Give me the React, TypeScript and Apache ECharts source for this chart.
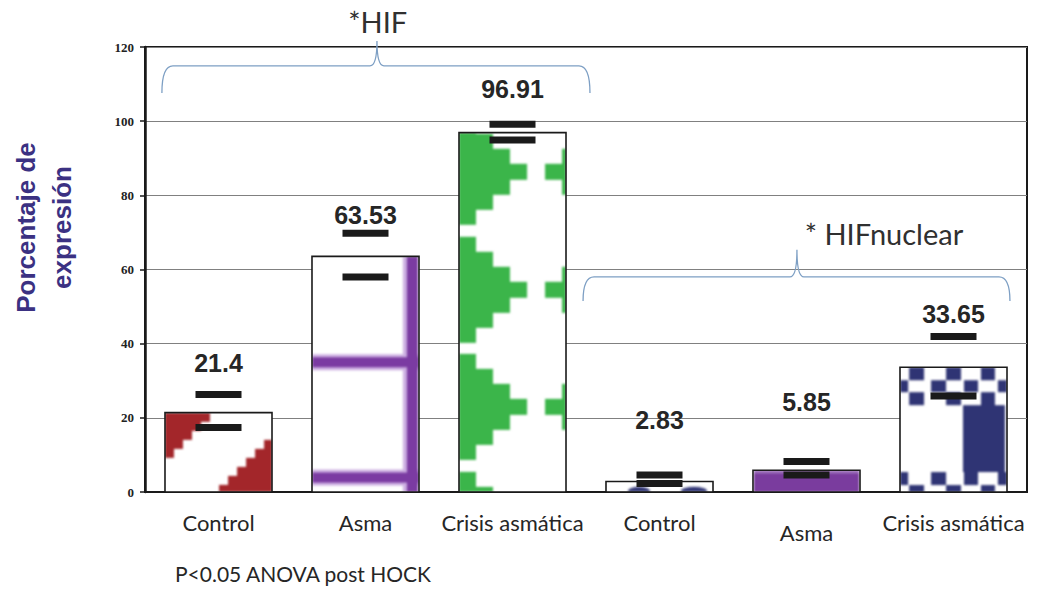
import React, { useEffect, useRef } from "react";
import * as echarts from "echarts";

// ---------- data ----------
const categories = ["Control", "Asma", "Crisis asmática", "Control", "Asma", "Crisis asmática"];
const values = [21.4, 63.53, 96.91, 2.83, 5.85, 33.65];
const errUpper = [26.3, 69.8, 99.2, 4.6, 8.2, 41.9];
const errLower = [17.4, 58.0, 94.9, 2.3, 4.6, 25.9];
const valueLabelLevel = [34.8, 74.7, 108.7, 19.4, 24.4, 48.0];
const yMin = 0;
const yMax = 120;
const yStep = 20;
const groupNames = ["*HIF", "* HIFnuclear"];
const yAxisTitle = "Porcentaje de\nexpresión";
const footnote = "P<0.05 ANOVA post HOCK";

// ---------- annotation layout (category units / axis values) ----------
const braceLayout = [
  { x0: -0.385, x1: 2.527, xc: 1.078, yLine: 114.9, yEnd: 107.6, yTip: 121.6, tx: 1.083, ty: 126.8 },
  { x0: 2.48, x1: 5.384, xc: 3.935, yLine: 58.0, yEnd: 51.5, yTip: 65.3, tx: 4.527, ty: 69.8 },
];

// ---------- pattern painters ----------
const RED = "#a3262a";
const PURPLE = "#7b3ba2";
const PURPLE_L = "#cdb0e2";
const GREEN = "#3bb54a";
const NAVY = "#2f3474";
const PURPLE_SOLID = "#7a3c9e";

type Painter = (c: CanvasRenderingContext2D, W: number, H: number) => void;

const paintDiag: Painter = (c, W, H) => {
  const s = 9;
  c.fillStyle = RED;
  for (let y = 0; y < H; y += s)
    for (let x = 0; x < W; x += s) {
      const m = (x + s / 2 + (y + s / 2) + 4) % 137;
      if (m < 53) c.fillRect(x, y, s, s);
    }
};

const paintGrid: Painter = (c, W, H) => {
  const centers: number[] = [];
  for (let yc = H - 14.5; yc > -20; yc -= 115.5) centers.push(yc);
  c.fillStyle = PURPLE_L;
  centers.forEach((yc) => c.fillRect(0, yc - 8, W, 16));
  c.fillRect(W - 16, 0, 5, H);
  c.fillStyle = PURPLE;
  centers.forEach((yc) => c.fillRect(0, yc - 5, W, 10));
  c.fillRect(W - 12, 0, 11, H);
};

const paintDiamonds: Painter = (c, W, H) => {
  c.fillStyle = GREEN;
  const cxs = [0, 154];
  for (let k = -1; k < H / 117.5 + 1; k++) {
    const cy = 39 + k * 117.5;
    cxs.forEach((cx) => {
      for (let r = -3; r <= 3; r++) {
        const hw = 68 - 17 * Math.abs(r);
        let y0: number, y1: number;
        if (r === 0) {
          y0 = cy - 8;
          y1 = cy + 8;
        } else if (r > 0) {
          y0 = cy + 8 + (r - 1) * 15;
          y1 = cy + 8 + r * 15;
        } else {
          y1 = cy - 8 - (-r - 1) * 15;
          y0 = cy - 8 - -r * 15;
        }
        c.fillRect(Math.round(cx - hw), Math.round(y0), Math.round(2 * hw), Math.round(y1) - Math.round(y0));
      }
    });
  }
};

const paintDots: Painter = (c, W, H) => {
  c.fillStyle = NAVY;
  c.beginPath();
  c.ellipse(33, H - 1, 11, 4, 0, 0, Math.PI * 2);
  c.ellipse(88, H - 1, 13, 4, 0, 0, Math.PI * 2);
  c.fill();
};

const paintSolid: Painter = (c, W, H) => {
  c.fillStyle = PURPLE_SOLID;
  c.fillRect(0, 0, W, H);
  c.fillStyle = "#a57cc2";
  c.fillRect(0, 1, W, 2);
};

const paintCheck: Painter = (c, W, H) => {
  c.fillStyle = NAVY;
  const E = [[9, 24], [46, 61], [81, 95]];
  const O = [[0, 8], [31, 46], [64, 78], [98, W]];
  const rows: [number, number, number[][]][] = [
    [0, 13, E],
    [13, 25, O],
    [25, 38, E],
    [105, 118, O],
    [118, 131, E],
  ];
  rows.forEach(([y0, y1, segs]) => segs.forEach(([a, b]) => c.fillRect(a, y0, b - a, y1 - y0)));
  c.fillRect(63, 38, W - 65, 67);
};

const painters: Painter[] = [paintDiag, paintGrid, paintDiamonds, paintDots, paintSolid, paintCheck];

function makePattern(idx: number, w: number, h: number): string {
  const W = Math.max(1, Math.round(w));
  const H = Math.max(1, Math.round(h));
  const a = document.createElement("canvas");
  a.width = W;
  a.height = H;
  const ca = a.getContext("2d")!;
  ca.fillStyle = "#fff";
  ca.fillRect(0, 0, W, H);
  painters[idx](ca, W, H);
  const b = document.createElement("canvas");
  b.width = W;
  b.height = H;
  const cb = b.getContext("2d")!;
  cb.fillStyle = "#fff";
  cb.fillRect(0, 0, W, H);
  cb.filter = "blur(0.9px)";
  cb.drawImage(a, 0, 0);
  return b.toDataURL();
}

const LABEL_FONT = "Lato, 'Open Sans', sans-serif";

export default function App() {
  const ref = useRef<HTMLDivElement>(null);

  useEffect(() => {
    if (!ref.current) return;
    const chart = echarts.init(ref.current, undefined, { renderer: "svg" });

    const option: any = {
      animation: false,
      backgroundColor: "#ffffff",
      grid: {
        left: 145,
        right: 15,
        top: 47,
        bottom: 99,
        show: true,
        borderColor: "#1a1a1a",
        borderWidth: 2,
        backgroundColor: "transparent",
      },
      xAxis: {
        type: "category",
        data: categories,
        axisLine: { show: true, lineStyle: { color: "#1a1a1a", width: 2 } },
        axisTick: { show: false },
        axisLabel: {
          interval: 0,
          margin: 19,
          color: "#262626",
          fontFamily: LABEL_FONT,
          fontSize: 22,
          formatter: (v: string, i: number) => (i === 4 ? `{low|${v}}` : v),
          rich: {
            low: { padding: [10, 0, 0, 0], fontFamily: LABEL_FONT, fontSize: 22, color: "#262626" },
          },
        },
        splitLine: { show: false },
      },
      yAxis: {
        type: "value",
        min: yMin,
        max: yMax,
        interval: yStep,
        name: yAxisTitle,
        nameLocation: "middle",
        nameGap: 65,
        nameRotate: 90,
        nameTextStyle: {
          fontFamily: "'Liberation Sans', Arial, sans-serif",
          fontWeight: "bold",
          fontSize: 26,
          lineHeight: 36,
          color: "#3b3182",
          padding: [0, 0, 0, 84],
        },
        axisLine: { show: true, lineStyle: { color: "#1a1a1a", width: 2.5 } },
        axisTick: { show: true, length: 5, lineStyle: { color: "#1a1a1a", width: 1.5 } },
        axisLabel: {
          margin: 11,
          color: "#222",
          fontFamily: "'Liberation Serif', 'Times New Roman', serif",
          fontWeight: "bold",
          fontSize: 13,
        },
        splitLine: { show: true, lineStyle: { color: "#808080", width: 1 } },
      },
      graphic: [
        {
          type: "text",
          left: 175,
          top: 563,
          style: { text: footnote, fontFamily: LABEL_FONT, fontSize: 21, fill: "#262626" },
        },
      ],
      series: [
        {
          type: "custom",
          name: "bars",
          z: 2,
          data: values.map((v, i) => [i, v]),
          encode: { x: 0, y: 1 },
          renderItem: (params: any, api: any) => {
            const idx = api.value(0);
            const v = api.value(1);
            const top = api.coord([idx, v]);
            const base = api.coord([idx, 0]);
            const bw = api.size([1, 0])[0] * 0.728;
            const x = top[0] - bw / 2;
            const y = top[1];
            const h = base[1] - top[1];
            return {
              type: "group",
              children: [
                {
                  type: "image",
                  style: { image: makePattern(idx, bw, h), x, y, width: bw, height: h },
                },
                {
                  type: "rect",
                  shape: { x, y, width: bw, height: h },
                  style: { fill: "none", stroke: "#1a1a1a", lineWidth: 1.6 },
                },
              ],
            };
          },
        },
        {
          type: "scatter",
          name: "upper",
          z: 4,
          symbol: "rect",
          symbolSize: [46, 7],
          itemStyle: { color: "#1a1a1a", opacity: 1 },
          data: errUpper.map((v, i) => [i, v]),
        },
        {
          type: "scatter",
          name: "lower",
          z: 4,
          symbol: "rect",
          symbolSize: [46, 7],
          itemStyle: { color: "#1a1a1a", opacity: 1 },
          data: errLower.map((v, i) => [i, v]),
        },
        {
          type: "scatter",
          name: "valueLabels",
          z: 5,
          symbolSize: 0,
          itemStyle: { color: "transparent", opacity: 1 },
          data: valueLabelLevel.map((v, i) => [i, v]),
          label: {
            show: true,
            position: "inside",
            formatter: (p: any) => String(values[p.dataIndex]),
            fontFamily: "'Liberation Sans', Arial, sans-serif",
            fontWeight: "bold",
            fontSize: 25,
            color: "#262626",
            opacity: 1,
          },
        },
        {
          type: "custom",
          name: "braces",
          z: 6,
          clip: false,
          data: braceLayout.map((_, i) => [i, 0]),
          encode: { x: 0, y: 1 },
          renderItem: (params: any, api: any) => {
            const b = braceLayout[params.dataIndex];
            const origin = api.coord([0, 0])[0];
            const band = api.size([1, 0])[0];
            const px = (u: number) => origin + u * band;
            const py = (v: number) => api.coord([0, v])[1];
            const x0 = px(b.x0), x1 = px(b.x1), xc = px(b.xc);
            const yL = py(b.yLine), yE = py(b.yEnd), yT = py(b.yTip);
            const d =
              `M${x0},${yE} Q${x0},${yL} ${x0 + 11},${yL} L${xc - 7},${yL} ` +
              `Q${xc},${yL} ${xc},${yT} Q${xc},${yL} ${xc + 7},${yL} ` +
              `L${x1 - 11},${yL} Q${x1},${yL} ${x1},${yE}`;
            return {
              type: "group",
              children: [
                {
                  type: "path",
                  shape: { pathData: d },
                  style: { fill: "none", stroke: "#7d9fc4", lineWidth: 1.3 },
                },
                {
                  type: "text",
                  style: {
                    text: groupNames[params.dataIndex],
                    x: px(b.tx),
                    y: py(b.ty),
                    align: "center",
                    verticalAlign: "middle",
                    fontFamily: LABEL_FONT,
                    fontSize: 29,
                    fill: "#303030",
                  },
                },
              ],
            };
          },
        },
      ],
    };

    chart.setOption(option);
    return () => chart.dispose();
  }, []);

  return (
    <div
      ref={ref}
      style={{ position: "absolute", left: 0, top: 0, width: 1042, height: 591, background: "#fff" }}
    />
  );
}
